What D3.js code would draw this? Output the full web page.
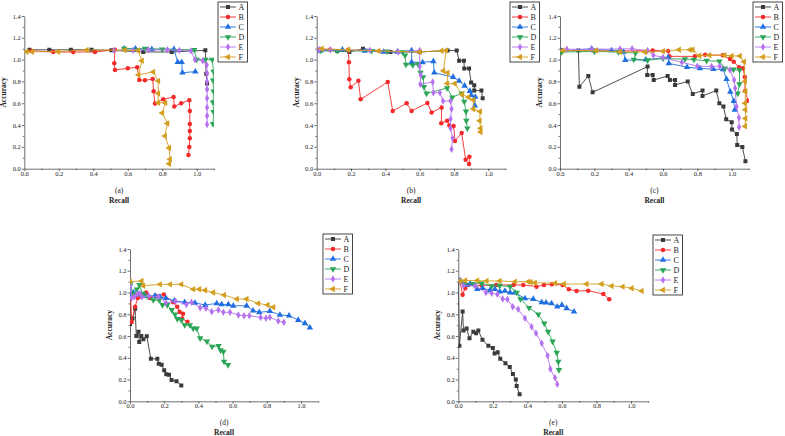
<!DOCTYPE html>
<html>
<head>
<meta charset="utf-8">
<script src="https://cdn.jsdelivr.net/npm/d3@7"></script>
<style>
  body { margin: 0; background: #fff; }
  svg { display: block; font-family: "Liberation Serif", "DejaVu Serif", serif; }
</style>
</head>
<body>
<div id="chart"></div>
<script>
// series names and colours
const seriesNames = ["A", "B", "C", "D", "E", "F"];
const seriesColors = ["#3a3a3a", "#f52a2a", "#1f6fe0", "#2aa656", "#b472ee", "#d39e1e"];

// panel (a): [recall, accuracy]
const a_A = [[0.03,1.09],[0.145,1.09],[0.27,1.09],[0.39,1.09],[0.505,1.085],[0.69,1.07],[0.855,1.07],[1.05,1.085],[1.055,0.87],[1.06,0.78]];
const a_B = [[0.04,1.08],[0.168,1.07],[0.284,1.07],[0.41,1.07],[0.526,1.09],[0.522,0.966],[0.526,0.905],[0.6,0.92],[0.655,0.93],[0.667,0.814],[0.70,0.81],[0.745,0.822],[0.75,0.71],[0.758,0.597],[0.806,0.637],[0.866,0.658],[0.87,0.57],[0.91,0.6],[0.957,0.628],[0.96,0.53],[0.96,0.41],[0.96,0.345],[0.96,0.28],[0.957,0.2],[0.952,0.126]];
const a_C = [[0.58,1.1],[0.645,1.1],[0.74,1.095],[0.868,1.096],[0.89,0.977],[0.913,0.977],[0.917,0.88],[0.992,0.89]];
const a_D = [[0.58,1.1],[0.7,1.1],[0.8,1.095],[0.986,1.09],[1.0,1.0],[1.05,1.0],[1.09,1.0],[1.098,0.89],[1.095,0.81],[1.098,0.71],[1.095,0.61],[1.098,0.52],[1.095,0.41]];
const a_E = [[0.52,1.085],[0.63,1.085],[0.72,1.09],[0.83,1.09],[0.9,1.085],[0.967,1.08],[0.99,1.0],[1.035,0.99],[1.058,0.95],[1.06,0.875],[1.06,0.8],[1.06,0.728],[1.06,0.646],[1.06,0.56],[1.06,0.485],[1.06,0.405]];
const a_F = [[0.014,1.073],[0.046,1.073],[0.197,1.073],[0.362,1.088],[0.584,1.088],[0.66,1.083],[0.682,0.99],[0.662,0.86],[0.748,0.887],[0.777,0.805],[0.777,0.69],[0.777,0.605],[0.818,0.605],[0.8,0.51],[0.83,0.415],[0.816,0.3],[0.84,0.19],[0.845,0.086],[0.84,0.045]];

// panel (b)
const b_A = [[0.02,1.09],[0.12,1.08],[0.19,1.07],[0.27,1.1],[0.43,1.07],[0.6,1.07],[0.763,1.084],[0.816,1.084],[0.83,0.99],[0.858,0.99],[0.86,0.918],[0.888,0.918],[0.9,0.79],[0.918,0.765],[0.918,0.716],[0.96,0.716],[0.967,0.646]];
const b_B = [[0.015,1.09],[0.078,1.09],[0.184,1.09],[0.188,0.975],[0.19,0.82],[0.198,0.746],[0.243,0.807],[0.256,0.636],[0.414,0.795],[0.443,0.529],[0.524,0.6],[0.553,0.53],[0.645,0.603],[0.67,0.516],[0.728,0.56],[0.726,0.417],[0.76,0.44],[0.773,0.395],[0.798,0.392],[0.806,0.255],[0.845,0.328],[0.868,0.083],[0.89,0.11],[0.888,0.042]];
const b_C = [[0.02,1.08],[0.15,1.09],[0.28,1.08],[0.39,1.07],[0.47,1.07],[0.553,1.085],[0.553,0.977],[0.617,0.975],[0.68,0.985],[0.685,0.88],[0.795,0.84],[0.83,0.805],[0.862,0.76],[0.893,0.712],[0.9,0.675],[0.924,0.658],[0.922,0.578]];
const b_D = [[0.02,1.08],[0.12,1.08],[0.32,1.08],[0.41,1.075],[0.5,1.07],[0.515,1.04],[0.52,0.955],[0.56,0.95],[0.59,0.96],[0.605,0.88],[0.62,0.84],[0.625,0.75],[0.64,0.69],[0.76,0.74],[0.79,0.655],[0.845,0.69],[0.86,0.615],[0.87,0.525],[0.872,0.44],[0.878,0.37]];
const b_E = [[0.015,1.09],[0.08,1.09],[0.31,1.085],[0.475,1.07],[0.6,1.084],[0.6,0.94],[0.606,0.856],[0.604,0.775],[0.676,0.795],[0.68,0.697],[0.718,0.697],[0.736,0.62],[0.78,0.62],[0.786,0.547],[0.78,0.455],[0.78,0.37],[0.792,0.28],[0.786,0.178]];
const b_F = [[0.03,1.1],[0.184,1.09],[0.36,1.08],[0.6,1.07],[0.728,1.082],[0.755,1.083],[0.738,0.897],[0.763,0.88],[0.76,0.78],[0.805,0.78],[0.848,0.68],[0.884,0.656],[0.913,0.63],[0.913,0.548],[0.952,0.525],[0.95,0.44],[0.955,0.37],[0.955,0.336]];

// panel (c)
const c_A = [[0.01,1.083],[0.107,1.083],[0.113,0.752],[0.165,0.85],[0.19,0.70],[0.51,0.936],[0.508,0.86],[0.54,0.86],[0.546,0.813],[0.627,0.85],[0.64,0.813],[0.67,0.813],[0.67,0.768],[0.744,0.8],[0.773,0.686],[0.83,0.716],[0.83,0.667],[0.91,0.716],[0.928,0.6],[0.952,0.57],[0.968,0.453],[1.0,0.426],[1.002,0.36],[1.03,0.318],[1.032,0.218],[1.062,0.198],[1.08,0.068]];
const c_B = [[0.01,1.083],[0.2,1.08],[0.35,1.08],[0.54,1.083],[0.63,1.08],[0.637,1.03],[0.786,1.03],[0.845,1.044],[0.948,1.04],[0.99,1.005],[1.012,0.98],[1.043,0.93],[1.066,0.922],[1.076,0.84],[1.078,0.712],[1.095,0.622]];
const c_C = [[0.01,1.08],[0.184,1.1],[0.3,1.085],[0.37,1.07],[0.38,0.995],[0.5,1.0],[0.63,1.02],[0.634,0.966],[0.74,0.93],[0.815,0.92],[0.893,0.913],[0.95,0.91],[0.97,0.82],[0.992,0.705],[1.012,0.62],[1.018,0.54]];
const c_D = [[0.01,1.07],[0.2,1.075],[0.34,1.07],[0.44,1.06],[0.43,1.0],[0.51,0.995],[0.6,1.01],[0.728,1.005],[0.78,1.0],[0.854,0.99],[0.928,0.985],[0.96,0.92],[1.01,0.91],[1.046,0.905],[1.045,0.776],[1.035,0.69]];
const c_E = [[0.04,1.095],[0.184,1.095],[0.35,1.098],[0.42,1.1],[0.51,1.083],[0.544,1.04],[0.6,1.02],[0.71,0.975],[0.8,0.94],[0.883,0.937],[0.93,0.94],[0.99,0.905],[1.014,0.814],[1.02,0.737],[1.028,0.57],[1.042,0.468],[1.043,0.38]];
const c_F = [[0.016,1.083],[0.21,1.083],[0.35,1.07],[0.495,1.07],[0.6,1.076],[0.693,1.09],[0.757,1.09],[0.773,1.09],[0.812,1.035],[0.87,1.04],[0.958,1.04],[1.0,1.034],[1.048,1.033],[1.072,0.98],[1.078,0.8],[1.08,0.71],[1.078,0.6],[1.08,0.54],[1.08,0.46],[1.078,0.39]];

// panel (d)
const d_A = [[0.0,1.09],[0.0,0.71],[0.015,0.76],[0.03,0.85],[0.037,0.6],[0.05,0.64],[0.054,0.545],[0.066,0.6],[0.078,0.57],[0.098,0.598],[0.122,0.39],[0.16,0.39],[0.168,0.345],[0.185,0.335],[0.2,0.285],[0.212,0.248],[0.228,0.245],[0.243,0.195],[0.272,0.185],[0.3,0.145]];
const d_B = [[0.0,1.09],[0.01,0.73],[0.03,0.87],[0.045,0.95],[0.066,0.96],[0.094,1.0],[0.115,0.95],[0.15,0.97],[0.198,0.982],[0.252,0.91],[0.276,0.87],[0.29,0.822],[0.31,0.805],[0.305,0.76],[0.336,0.732]];
const d_C = [[0.0,1.085],[0.01,0.97],[0.02,1.0],[0.05,0.98],[0.09,0.97],[0.146,0.97],[0.175,0.96],[0.21,0.948],[0.26,0.925],[0.32,0.91],[0.38,0.905],[0.44,0.885],[0.507,0.9],[0.536,0.89],[0.575,0.89],[0.604,0.878],[0.682,0.878],[0.72,0.833],[0.756,0.818],[0.818,0.828],[0.877,0.794],[0.93,0.787],[0.984,0.747],[1.023,0.717],[1.052,0.677]];
const d_D = [[0.0,1.08],[0.02,0.98],[0.04,1.03],[0.055,1.07],[0.074,0.99],[0.1,0.97],[0.136,0.93],[0.17,0.93],[0.19,0.886],[0.218,0.886],[0.244,0.84],[0.263,0.8],[0.277,0.757],[0.3,0.748],[0.32,0.7],[0.35,0.7],[0.37,0.67],[0.39,0.67],[0.41,0.58],[0.45,0.55],[0.48,0.503],[0.518,0.51],[0.53,0.47],[0.546,0.456],[0.55,0.365],[0.573,0.334]];
const d_E = [[0.0,1.05],[0.01,0.95],[0.025,0.96],[0.043,0.987],[0.058,0.99],[0.07,0.96],[0.11,0.97],[0.166,0.96],[0.21,0.905],[0.266,0.92],[0.33,0.89],[0.36,0.91],[0.41,0.86],[0.444,0.855],[0.478,0.824],[0.517,0.84],[0.546,0.818],[0.585,0.818],[0.634,0.794],[0.667,0.787],[0.698,0.787],[0.764,0.77],[0.795,0.763],[0.818,0.772],[0.867,0.738],[0.9,0.726]];
const d_F = [[0.0,1.1],[0.068,1.106],[0.078,1.063],[0.175,1.075],[0.234,1.075],[0.3,1.075],[0.37,1.03],[0.405,1.03],[0.44,1.02],[0.487,1.0],[0.55,0.977],[0.625,0.94],[0.682,0.94],[0.75,0.9],[0.805,0.885],[0.838,0.864]];

// panel (e)
const e_A = [[0.0,1.1],[0.006,0.51],[0.025,0.825],[0.03,0.65],[0.048,0.67],[0.065,0.58],[0.087,0.64],[0.103,0.625],[0.116,0.65],[0.14,0.565],[0.174,0.51],[0.2,0.49],[0.21,0.44],[0.228,0.45],[0.243,0.39],[0.273,0.35],[0.298,0.315],[0.316,0.25],[0.333,0.2],[0.338,0.14],[0.355,0.065]];
const e_B = [[0.01,1.1],[0.025,0.98],[0.04,1.04],[0.058,1.07],[0.135,1.065],[0.22,1.07],[0.32,1.07],[0.376,1.07],[0.453,1.054],[0.496,1.07],[0.542,1.075],[0.604,1.07],[0.64,1.03],[0.685,1.014],[0.752,1.017],[0.84,0.986],[0.874,0.937]];
const e_C = [[0.01,1.11],[0.048,1.07],[0.068,1.08],[0.11,1.03],[0.141,1.04],[0.183,1.02],[0.212,1.03],[0.24,1.008],[0.27,1.014],[0.3,1.0],[0.328,0.998],[0.386,0.945],[0.434,0.94],[0.483,0.91],[0.508,0.907],[0.54,0.9],[0.573,0.87],[0.6,0.885],[0.627,0.855],[0.67,0.824]];
const e_D = [[0.01,1.1],[0.03,1.08],[0.087,1.08],[0.135,1.085],[0.193,1.06],[0.24,1.063],[0.3,1.054],[0.338,1.0],[0.36,0.94],[0.41,0.86],[0.463,0.8],[0.498,0.717],[0.52,0.64],[0.546,0.55],[0.57,0.447],[0.579,0.364],[0.583,0.288]];
const e_E = [[0.01,1.1],[0.03,1.063],[0.097,1.06],[0.16,1.0],[0.193,0.993],[0.226,0.983],[0.257,0.94],[0.284,0.937],[0.315,0.87],[0.347,0.846],[0.386,0.763],[0.424,0.686],[0.45,0.625],[0.483,0.533],[0.517,0.42],[0.533,0.297],[0.56,0.217],[0.573,0.156]];
const e_F = [[0.01,1.106],[0.04,1.11],[0.11,1.11],[0.164,1.106],[0.24,1.106],[0.328,1.1],[0.405,1.1],[0.42,1.094],[0.444,1.09],[0.56,1.085],[0.612,1.078],[0.743,1.078],[0.83,1.078],[0.888,1.06],[0.952,1.054],[1.004,1.04],[1.062,1.014]];

const xTicks = [0.0, 0.2, 0.4, 0.6, 0.8, 1.0];
const yTicks = [0.0, 0.2, 0.4, 0.6, 0.8, 1.0, 1.2, 1.4];

const panels = [
  { label: "(a)", series: [a_A, a_B, a_C, a_D, a_E, a_F], x0: 24.3, unit: 172.4, yTop: 16, yBot: 168.7, lab: 190, rec: 200, legX: 218, legY: 2 },
  { label: "(b)", series: [b_A, b_B, b_C, b_D, b_E, b_F], x0: 316.7, unit: 171.6, yTop: 16, yBot: 168.7, lab: 190, rec: 200, legX: 510, legY: 2 },
  { label: "(c)", series: [c_A, c_B, c_C, c_D, c_E, c_F], x0: 560, unit: 171.7, yTop: 16, yBot: 168.7, lab: 190, rec: 200, legX: 753, legY: 2 },
  { label: "(d)", series: [d_A, d_B, d_C, d_D, d_E, d_F], x0: 130, unit: 171, yTop: 249, yBot: 401.3, lab: 422, rec: 432, legX: 323, legY: 234 },
  { label: "(e)", series: [e_A, e_B, e_C, e_D, e_E, e_F], x0: 458.3, unit: 172.7, yTop: 249, yBot: 401.3, lab: 422, rec: 432, legX: 653, legY: 235 }
];

const svg = d3.select("#chart").append("svg")
  .attr("width", 785)
  .attr("height", 436);

// marker shapes: square, circle, up, down, diamond, left
function marker(sel, i, color) {
  const types = [d3.symbolSquare, d3.symbolCircle, d3.symbolTriangle, d3.symbolTriangle, d3.symbolDiamond, d3.symbolTriangle];
  const sizes = [16, 16, 18, 18, 16, 18];
  const rot = [0, 0, 0, 180, 0, -90];
  sel.attr("d", d3.symbol().type(types[i]).size(sizes[i]))
    .attr("fill", color)
    .attr("stroke", "none")
    .attr("data-rot", rot[i]);
}

panels.forEach(function (p, pi) {
  const x = d3.scaleLinear().domain([0, 1.1]).range([p.x0, p.x0 + 1.1 * p.unit]);
  const y = d3.scaleLinear().domain([0, 1.4]).range([p.yBot, p.yTop]);

  const g = svg.append("g");

  // clip to plot area
  const clipId = "clip" + pi;
  svg.append("clipPath").attr("id", clipId)
    .append("rect")
    .attr("x", x(0)).attr("y", y(1.45))
    .attr("width", x(1.1) - x(0)).attr("height", y(0) - y(1.45));

  // axes
  const xAxis = g.append("g")
    .attr("transform", `translate(0,${p.yBot})`)
    .call(d3.axisBottom(x).tickValues(xTicks).tickFormat(d3.format(".1f")).tickSize(2.5).tickSizeOuter(0));
  g.append("g")
    .attr("transform", `translate(0,${p.yBot})`)
    .call(d3.axisBottom(x).tickValues([0.1, 0.3, 0.5, 0.7, 0.9, 1.1]).tickFormat("").tickSize(1.5).tickSizeOuter(0))
    .select(".domain").remove();
  const yAxis = g.append("g")
    .attr("transform", `translate(${p.x0},0)`)
    .call(d3.axisLeft(y).tickValues(yTicks).tickFormat(d3.format(".1f")).tickSize(2.5).tickSizeOuter(0));
  g.append("g")
    .attr("transform", `translate(${p.x0},0)`)
    .call(d3.axisLeft(y).tickValues([0.1, 0.3, 0.5, 0.7, 0.9, 1.1, 1.3]).tickFormat("").tickSize(1.5).tickSizeOuter(0))
    .select(".domain").remove();

  g.selectAll(".tick text")
    .style("font-family", "Liberation Serif")
    .style("font-size", "6.5px")
    .attr("fill", "#222");
  g.selectAll(".domain, .tick line").attr("stroke", "#333").attr("stroke-width", 0.7);
  xAxis.selectAll(".tick text").attr("dy", "0.6em").attr("y", 3);
  yAxis.selectAll(".tick text").attr("x", -3.5);

  // titles
  g.append("text")
    .text("Accuracy")
    .attr("transform", `translate(${p.x0 - 18},${(p.yTop + p.yBot) / 2}) rotate(-90)`)
    .attr("text-anchor", "middle")
    .style("font-size", "7.5px")
    .style("font-weight", "bold")
    .attr("fill", "#222");
  g.append("text")
    .text(p.label)
    .attr("x", (x(0) + x(1.1)) / 2)
    .attr("y", p.lab + 3)
    .attr("text-anchor", "middle")
    .style("font-size", "7.5px")
    .attr("fill", "#222");
  g.append("text")
    .text("Recall")
    .attr("x", (x(0) + x(1.1)) / 2)
    .attr("y", p.rec + 3)
    .attr("text-anchor", "middle")
    .style("font-size", "7.5px")
    .style("font-weight", "bold")
    .attr("fill", "#222");

  // series
  const plot = g.append("g").attr("clip-path", `url(#${clipId})`);
  const line = d3.line().x(d => x(d[0])).y(d => y(d[1]));
  p.series.forEach(function (data, si) {
    const col = seriesColors[si];
    plot.append("path")
      .datum(data)
      .attr("d", line)
      .attr("fill", "none")
      .attr("stroke", col)
      .attr("stroke-width", 0.9);
    plot.selectAll(".m" + si)
      .data(data)
      .enter()
      .append("path")
      .attr("class", "m" + si)
      .call(marker, si, col)
      .attr("transform", function (d) { return `translate(${x(d[0])},${y(d[1])}) rotate(${d3.select(this).attr("data-rot")})`; });
  });

  // legend
  const leg = g.append("g").attr("transform", `translate(${p.legX},${p.legY})`);
  leg.append("rect")
    .attr("width", 29.5).attr("height", 60)
    .attr("fill", "#fff").attr("stroke", "#333").attr("stroke-width", 0.9);
  seriesNames.forEach(function (name, si) {
    const ly = 5 + si * 10;
    leg.append("line")
      .attr("x1", 2).attr("x2", 18).attr("y1", ly).attr("y2", ly)
      .attr("stroke", seriesColors[si]).attr("stroke-width", 0.9);
    leg.append("path")
      .call(marker, si, seriesColors[si])
      .attr("transform", function () { return `translate(10,${ly}) rotate(${d3.select(this).attr("data-rot")})`; });
    leg.append("text")
      .text(name)
      .attr("x", 20.5).attr("y", ly + 2.7)
      .style("font-size", "8px")
      .attr("fill", "#222");
  });
});
</script>
</body>
</html>
